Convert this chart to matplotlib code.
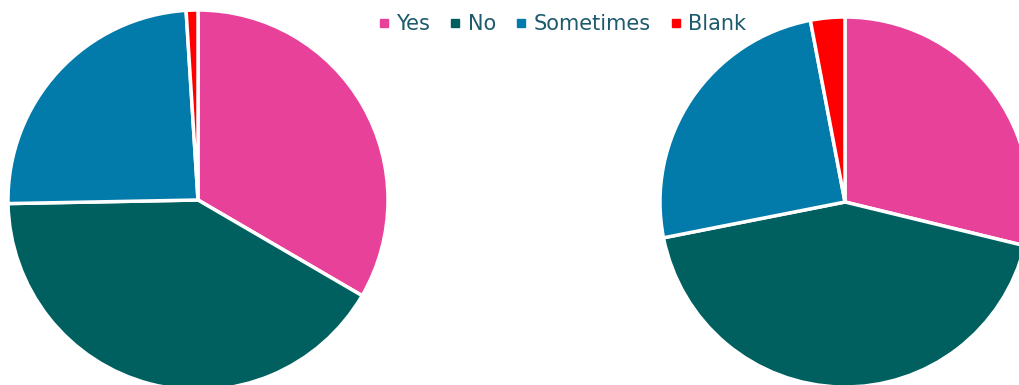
import matplotlib.pyplot as plt
from matplotlib.lines import Line2D

labels = ['Yes', 'No', 'Sometimes', 'Blank']
left_vals = [33.4, 41.3, 24.3, 1.0]
right_vals = [28.8, 43.1, 25.1, 3.0]
colors = ['#E8419A', '#006060', '#027BAB', '#FF0000']
text_color = '#1D5A6C'

W, H = 1020, 385
fig = plt.figure(figsize=(W / 100, H / 100), dpi=100)


def pie_axes(cx, cy, r):
    # pixel centre/radius -> figure fraction axes
    return fig.add_axes([(cx - r) / W, (H - cy - r) / H, 2 * r / W, 2 * r / H])


for vals, (cx, cy, r) in [(left_vals, (198, 200, 190)), (right_vals, (845, 202, 185))]:
    ax = pie_axes(cx, cy, r)
    ax.pie(vals, colors=colors, startangle=90, counterclock=False,
           wedgeprops=dict(edgecolor='white', linewidth=2.5))
    ax.set_xlim(-1, 1)
    ax.set_ylim(-1, 1)
    ax.set_aspect('equal')
    ax.axis('off')

handles = [Line2D([], [], marker='s', linestyle='none', markersize=6,
                  markerfacecolor=c, markeredgecolor=c) for c in colors]
fig.legend(handles, labels, loc='center', bbox_to_anchor=(562 / W, 1 - 24 / H),
           ncol=4, frameon=False, fontsize=15, labelcolor=text_color,
           handlelength=0.6, handletextpad=0.3, columnspacing=0.9)

fig.savefig('out.png', dpi=100)
